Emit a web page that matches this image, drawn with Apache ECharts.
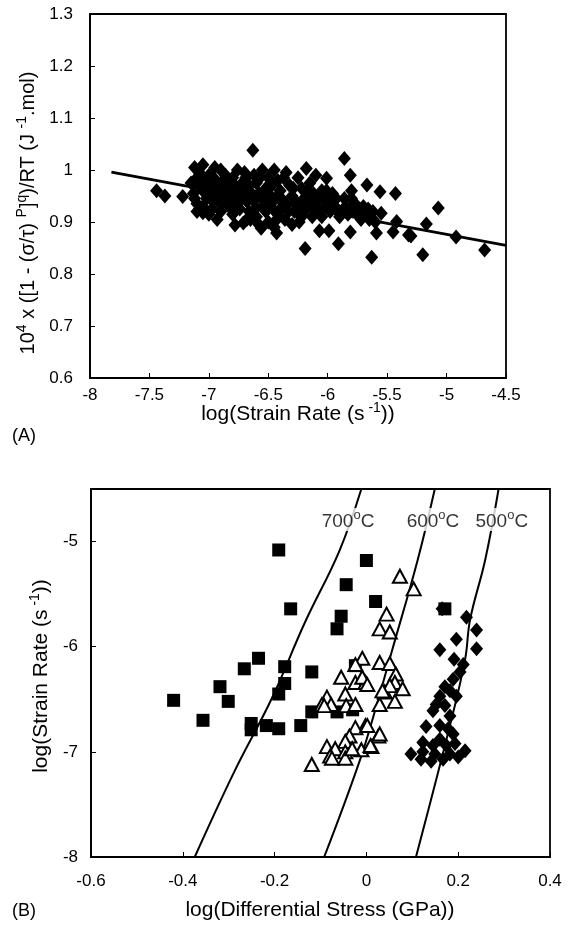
<!DOCTYPE html>
<html><head><meta charset="utf-8">
<script src="https://cdn.jsdelivr.net/npm/echarts@6/dist/echarts.min.js"></script>
<style>html,body{margin:0;padding:0;background:#fff}#c{width:575px;height:942px}</style>
</head><body><div id="c"></div>
<script>
// Panel A: log(strain rate) vs normalized activation term
const panelA_points = [
[-7.44,0.960],[-7.37,0.950],[-7.22,0.949],[-7.05,1.010],[-7.05,0.918],[-6.63,1.038],[-5.86,1.022],[-5.81,0.990],
[-6.18,1.003],[-6.01,0.984],[-5.67,0.971],[-5.56,0.958],[-5.43,0.955],[-5.07,0.927],[-5.17,0.896],[-4.92,0.871],
[-4.68,0.846],[-5.20,0.837],[-5.63,0.832],[-5.91,0.858],[-6.19,0.849],[-6.07,0.883],[-5.99,0.883],[-5.81,0.881],
[-5.59,0.879],[-5.45,0.881],[-5.32,0.875],[-5.30,0.873],[-5.42,0.901],[-5.55,0.917],[-6.78,0.894],[-6.71,0.898],
[-6.56,0.888],[-6.43,0.879],
[-7.12,1.005],[-7.10,0.985],[-7.08,0.970],[-7.13,0.955],[-7.05,0.960],[-7.02,0.945],[-7.10,0.935],[-7.00,0.990],
[-6.98,0.975],[-6.95,0.960],[-6.92,0.940],[-6.97,0.925],[-7.05,0.930],[-6.90,1.000],[-6.88,0.980],[-6.85,0.965],
[-6.87,0.950],[-6.83,0.930],[-6.90,0.920],[-6.95,1.005],[-7.08,0.995],[-6.80,0.985],[-6.78,0.970],[-6.82,0.955],
[-6.76,0.945],[-6.80,0.915],[-7.00,0.915],[-6.93,0.905],
[-6.72,0.975],[-6.70,0.960],[-6.68,0.940],[-6.74,0.925],[-6.66,0.920],[-6.70,0.995],[-6.62,0.990],[-6.60,0.975],
[-6.58,0.955],[-6.62,0.940],[-6.55,0.930],[-6.60,0.910],[-6.52,0.920],[-6.65,0.905],[-6.55,1.000],[-6.50,0.985],
[-6.52,0.965],[-6.48,0.950],[-6.58,0.895],[-6.50,0.900],[-6.76,1.000],
[-6.45,1.000],[-6.42,0.980],[-6.40,0.960],[-6.44,0.945],[-6.38,0.930],[-6.42,0.915],[-6.35,0.995],[-6.32,0.970],
[-6.30,0.950],[-6.35,0.935],[-6.28,0.920],[-6.36,0.905],[-6.25,0.985],[-6.22,0.965],[-6.20,0.945],[-6.25,0.930],
[-6.18,0.925],[-6.30,0.895],[-6.45,0.890],[-6.22,0.910],
[-6.15,0.975],[-6.12,0.955],[-6.10,0.940],[-6.08,0.925],[-6.05,0.960],[-6.02,0.945],[-6.00,0.930],[-6.05,0.910],
[-5.98,0.920],[-5.95,0.940],[-5.92,0.925],[-6.10,0.990],[-6.13,0.910],[-5.90,0.910],[-5.96,0.955],
[-5.85,0.930],[-5.80,0.945],[-5.78,0.925],[-5.75,0.915],[-5.70,0.930],[-5.68,0.915],[-5.62,0.920],[-5.60,0.900],
[-5.72,0.905],[-5.80,0.960],
[-7.15,0.975],[-7.12,0.945],[-7.06,0.985],[-7.03,0.970],[-6.99,0.955],[-6.96,0.985],[-6.93,0.970],[-6.91,0.955],
[-6.88,0.940],[-6.86,0.990],[-6.84,0.975],[-6.81,0.940],[-6.78,0.930],[-6.74,0.960],[-6.72,0.945],[-6.69,0.985],
[-6.66,0.970],[-6.64,0.955],[-6.61,0.925],[-6.57,0.985],[-6.54,0.945],[-6.51,0.935],[-6.47,0.970],[-6.46,0.925],
[-6.43,0.905],[-6.39,0.945],[-6.37,0.985],[-6.33,0.920],[-6.29,0.965],[-6.27,0.940],[-6.24,0.900],[-6.21,0.930],
[-6.17,0.960],[-6.14,0.940],[-6.11,0.925],[-6.07,0.945],[-6.04,0.925],[-6.01,0.960],[-5.97,0.935],[-5.93,0.945],
[-5.88,0.920],[-5.86,0.945],[-5.83,0.915],[-5.77,0.935],[-5.73,0.925],[-5.66,0.925],[-5.65,0.905],[-7.10,0.920],
[-6.97,0.940],[-6.68,0.905]
];
const panelA_fit = [[-7.82,0.996],[-4.5,0.855]];
const panelA_xTicks = {min:-8, max:-4.5, step:0.5};
const panelA_yTicks = {min:0.6, max:1.3, step:0.1};

// Panel B: log(differential stress) vs log(strain rate)
const squares700 = [
[-0.191,-5.08],[0.000,-5.18],[-0.044,-5.41],[0.020,-5.57],[-0.165,-5.64],[-0.055,-5.71],[-0.064,-5.83],
[-0.235,-6.11],[-0.266,-6.21],[-0.178,-6.19],[-0.119,-6.24],[-0.319,-6.38],[-0.178,-6.35],[-0.191,-6.45],
[-0.420,-6.51],[-0.301,-6.52],[-0.119,-6.62],[-0.356,-6.70],[-0.251,-6.73],[-0.251,-6.79],[-0.218,-6.75],
[-0.191,-6.78],[-0.143,-6.75],[0.171,-5.64],[-0.064,-6.62],[-0.030,-6.60],[-0.024,-6.18]
];
const triangles600 = [
[0.073,-5.33],[0.103,-5.45],[0.044,-5.69],[0.029,-5.83],[0.051,-5.86],[-0.009,-6.11],[-0.024,-6.17],[0.029,-6.15],
[0.051,-6.16],[-0.055,-6.29],[-0.024,-6.34],[-0.002,-6.34],[-0.009,-6.29],[0.002,-6.36],[-0.046,-6.45],[-0.086,-6.48],
[-0.097,-6.55],[-0.077,-6.55],[-0.044,-6.56],[-0.024,-6.55],[0.029,-6.55],[0.040,-6.43],[0.064,-6.26],[0.062,-6.34],
[0.051,-6.37],[0.079,-6.40],[0.035,-6.42],[0.062,-6.52],[-0.092,-6.56],[-0.002,-6.75],[-0.024,-6.77],[-0.037,-6.85],
[-0.046,-6.90],[-0.086,-6.95],[-0.068,-6.97],[-0.046,-7.00],[-0.011,-6.98],[0.011,-6.95],[0.026,-6.85],[-0.079,-7.04],
[-0.046,-7.06],[-0.075,-7.06],[-0.119,-7.12],[0.002,-6.75],[0.029,-6.83],[0.009,-6.94],[-0.031,-6.97]
];
const diamonds500 = [
[0.165,-5.64],[0.218,-5.72],[0.240,-5.84],[0.196,-5.93],[0.160,-6.03],[0.240,-6.02],[0.191,-6.12],[0.211,-6.17],
[0.204,-6.24],[0.189,-6.31],[0.171,-6.38],[0.182,-6.42],[0.196,-6.47],[0.160,-6.47],[0.152,-6.55],[0.171,-6.56],
[0.145,-6.61],[0.182,-6.66],[0.130,-6.76],[0.160,-6.75],[0.178,-6.78],[0.189,-6.83],[0.123,-6.91],[0.160,-6.88],
[0.145,-6.94],[0.174,-6.94],[0.193,-6.92],[0.097,-7.02],[0.123,-7.00],[0.149,-7.02],[0.182,-7.02],[0.119,-7.07],
[0.141,-7.09],[0.167,-7.07],[0.200,-7.05],[0.215,-6.99]
];
const curve700 = [[-0.374,-8.0],[-0.288,-7.19],[-0.207,-6.50],[-0.134,-5.77],[-0.059,-5.09],[-0.011,-4.5]];
const curve600 = [[-0.092,-8.0],[-0.015,-7.09],[0.024,-6.53],[0.055,-6.05],[0.112,-5.17],[0.149,-4.5]];
const curve500 = [[0.108,-8.0],[0.182,-6.75],[0.215,-6.12],[0.226,-5.74],[0.259,-5.17],[0.288,-4.5]];
const curveLabels = [
  {t:'700', x:-0.040, y:-4.79},
  {t:'600', x:0.145, y:-4.79},
  {t:'500', x:0.295, y:-4.79}
];
const panelB_xTicks = {min:-0.6, max:0.4, step:0.2};
const panelB_yTicks = {min:-8, max:-4.5, step:1};

const FONT = 'Liberation Sans, Arial, Helvetica, sans-serif';
const INK = '#000';
const chart = echarts.init(document.getElementById('c'), null, {renderer:'canvas'});

const fmtNum = v => String(Math.round(v*100)/100);
function axisCommon(t, grid, margin, extraLabel){
  return {
    type:'value', gridIndex:grid, min:t.min, max:t.max, interval:t.step,
    axisLine:{show:true, onZero:false, lineStyle:{color:INK, width:1.8}},
    axisTick:{show:true, inside:true, length:5, lineStyle:{color:INK, width:1}},
    splitLine:{show:false},
    axisLabel:Object.assign({color:INK, fontFamily:FONT, fontSize:17, margin:margin, formatter:fmtNum}, extraLabel||{})
  };
}

function supRich(base, sup){
  return {
    a:{fontFamily:FONT, fontSize:base, color:INK, lineHeight:base+3, verticalAlign:'bottom'},
    s:{fontFamily:FONT, fontSize:sup, color:INK, lineHeight:sup+2, verticalAlign:'top'}
  };
}

const option = {
  animation:false,
  backgroundColor:'#fff',
  grid:[
    {left:90, top:14, width:416, height:364, show:true, borderColor:INK, borderWidth:1.8, backgroundColor:'transparent'},
    {left:91, top:489, width:459, height:368, show:true, borderColor:INK, borderWidth:1.8, backgroundColor:'transparent'}
  ],
  xAxis:[ axisCommon(panelA_xTicks, 0, 9), axisCommon(panelB_xTicks, 1, 16) ],
  yAxis:[ axisCommon(panelA_yTicks, 0, 17), axisCommon(panelB_yTicks, 1, 13, {showMaxLabel:false}) ],
  graphic:[
    {type:'text', left:12, top:427, style:{text:'(A)', font:'18px '+FONT, fill:INK}},
    {type:'text', left:12, top:902, style:{text:'(B)', font:'18px '+FONT, fill:INK}},
    {type:'text', x:298, y:413, style:{text:'{a|log(Strain Rate (s}{s| -1}{a|))}', rich:supRich(21,14), align:'center', verticalAlign:'middle'}},
    {type:'text', x:320, y:910, style:{text:'log(Differential Stress (GPa))', font:'21px '+FONT, fill:INK, align:'center', verticalAlign:'middle'}},
    {type:'text', x:27, y:213, rotation:Math.PI/2, style:{text:'{a|10}{s|4}{a| x ([1 - (σ/τ) }{s|P}{a|]}{s|q}{a|)/RT (J }{s|-1}{a|.mol)}', rich:supRich(20,14), align:'center', verticalAlign:'middle'}},
    {type:'text', x:40, y:676, rotation:Math.PI/2, style:{text:'{a|log(Strain Rate (s}{s| -1}{a|))}', rich:supRich(21,14), align:'center', verticalAlign:'middle'}}
  ],
  series:[
    {type:'scatter', xAxisIndex:0, yAxisIndex:0, data:panelA_points, symbol:'diamond', symbolSize:[13,15],
     itemStyle:{color:'#000', opacity:1}, z:3},
    {type:'line', xAxisIndex:0, yAxisIndex:0, data:panelA_fit, symbol:'none', lineStyle:{color:'#000', width:2.8}, z:4},
    {type:'line', xAxisIndex:1, yAxisIndex:1, data:curve700, smooth:0.4, symbol:'none', lineStyle:{color:'#000', width:2}, z:2},
    {type:'line', xAxisIndex:1, yAxisIndex:1, data:curve600, smooth:0.4, symbol:'none', lineStyle:{color:'#000', width:2}, z:2},
    {type:'line', xAxisIndex:1, yAxisIndex:1, data:curve500, smooth:0.4, symbol:'none', lineStyle:{color:'#000', width:2}, z:2},
    {type:'scatter', xAxisIndex:1, yAxisIndex:1, data:squares700, symbol:'rect', symbolSize:13, itemStyle:{color:'#000', opacity:1}, z:3},
    {type:'scatter', xAxisIndex:1, yAxisIndex:1, data:triangles600, symbol:'triangle', symbolSize:[14,13],
     itemStyle:{color:'#fff', borderColor:'#000', borderWidth:2, opacity:1}, z:3},
    {type:'scatter', xAxisIndex:1, yAxisIndex:1, data:diamonds500, symbol:'diamond', symbolSize:[13,15], itemStyle:{color:'#000', opacity:1}, z:3},
    {type:'scatter', xAxisIndex:1, yAxisIndex:1, symbolSize:0, z:6,
     data:curveLabels.map(d=>({value:[d.x,d.y], name:d.t})),
     label:{show:true, position:'inside', formatter:p=>'{a|'+p.name+'}{s|o}{a|C}', backgroundColor:'#fff', padding:[1,2,0,2],
       rich:supRich(19,13)}}
  ]
};
chart.setOption(option);
</script></body></html>
